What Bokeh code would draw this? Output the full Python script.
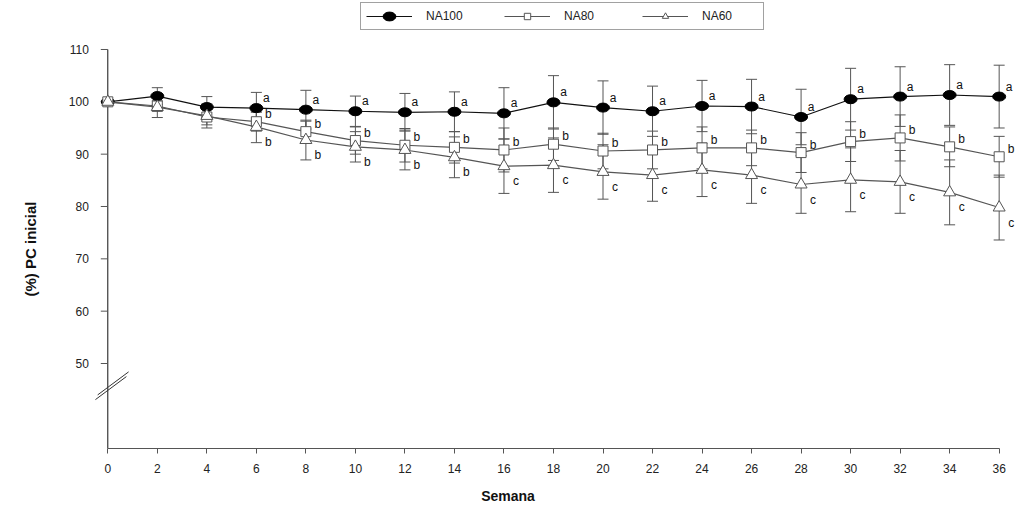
import math
from bokeh.plotting import figure
from bokeh.models import (ColumnDataSource, Whisker, TeeHead, FixedTicker, Legend,
                          LegendItem, Range1d)
from bokeh.core.properties import value
from bokeh.embed import file_html
from bokeh.resources import INLINE

# ---------------- data ----------------
weeks = [0, 2, 4, 6, 8, 10, 12, 14, 16, 18, 20, 22, 24, 26, 28, 30, 32, 34, 36]

na100 = [100, 101.1, 99.0, 98.8, 98.5, 98.2, 98.0, 98.1, 97.8, 99.9, 98.9, 98.2,
         99.2, 99.1, 97.1, 100.5, 101.0, 101.3, 101.0]
sd100 = [0, 1.6, 2.0, 3.0, 3.7, 2.9, 3.6, 3.8, 4.9, 5.1, 5.1, 4.8,
         4.9, 5.2, 5.3, 5.9, 5.7, 5.8, 6.0]

na80 = [100, 99.2, 97.1, 96.2, 94.3, 92.6, 91.7, 91.3, 90.8, 91.9, 90.6, 90.8,
        91.2, 91.2, 90.3, 92.4, 93.1, 91.4, 89.5]
sd80 = [0, 1.0, 1.5, 1.8, 2.0, 2.6, 3.2, 3.0, 4.2, 3.1, 3.4, 3.6,
        4.0, 3.4, 3.8, 3.8, 4.4, 3.8, 3.9]

na60 = [100, 99.0, 97.3, 95.2, 92.7, 91.4, 90.8, 89.4, 87.7, 87.9, 86.6, 86.0,
        87.0, 86.0, 84.2, 85.1, 84.7, 82.7, 79.8]
sd60 = [0, 2.0, 2.3, 3.0, 3.8, 2.9, 3.8, 3.9, 5.2, 5.2, 5.2, 5.0,
        5.1, 5.4, 5.5, 6.1, 6.0, 6.2, 6.2]

let100 = ["", "", "", "a", "a", "a", "a", "a", "a", "a", "a", "a", "a", "a", "a", "a", "a", "a", "a"]
let80 = ["", "", "", "b", "b", "b", "b", "b", "b", "b", "b", "b", "b", "b", "b", "b", "b", "b", "b"]
let60 = ["", "", "", "b", "b", "b", "b", "b", "c", "c", "c", "c", "c", "c", "c", "c", "c", "c", "c"]

series_names = ["NA100", "NA80", "NA60"]
x_ticks = list(range(0, 37, 2))
y_ticks = [50, 60, 70, 80, 90, 100, 110]
y_tick_labels = ["50", "60", "70", "80", "90", "100", "110"]
x_title = "Semana"
y_title = "(%) PC inicial"

FONT = "Liberation Sans"
GREY = "#555555"

Y0, Y_TOP = 33.76, 110          # visible axis extent
X0, X1 = 0, 36

p = figure(width=1016, height=510, output_backend="svg", toolbar_location=None,
           x_range=Range1d(-4.334, 36.66), y_range=Range1d(Y0, 119.36),
           min_border_left=0, min_border_right=1, min_border_top=0,
           min_border_bottom=62)
p.outline_line_color = None
p.grid.visible = False
p.background_fill_color = "white"

# x axis (native)
p.xaxis.ticker = FixedTicker(ticks=x_ticks)
xa = p.xaxis[0]
xa.minor_tick_line_color = None
xa.major_tick_in = 0
xa.major_tick_out = 5
xa.major_tick_line_color = GREY
xa.axis_line_color = GREY
xa.bounds = (X0, X1)
xa.major_label_text_font = FONT
xa.major_label_text_font_size = "12px"
xa.major_label_text_color = "#222222"
xa.major_label_standoff = 10
xa.axis_label = x_title
xa.axis_label_text_font = FONT
xa.axis_label_text_font_style = "bold"
xa.axis_label_text_font_size = "14px"
xa.axis_label_text_color = "#111111"
xa.axis_label_standoff = 12

# y axis drawn at x = X0 (line, outward ticks, labels, title)
p.yaxis.visible = False
p.segment(x0=[X0], y0=[Y0], x1=[X0], y1=[Y_TOP], line_color="#111111", line_width=1)
p.ray(x=[X0] * len(y_ticks), y=y_ticks, length=7, length_units="screen",
      angle=math.pi, line_color=GREY, line_width=1)
p.text(x=[X0] * len(y_ticks), y=y_ticks, text=y_tick_labels, x_offset=-19,
       text_font=value(FONT), text_font_size="12px", text_color="#222222",
       text_align="right", text_baseline="middle")
p.text(x=[X0], y=[(Y0 + Y_TOP) / 2], text=[y_title], x_offset=-77, angle=math.pi / 2,
       text_font=value(FONT), text_font_size="15px", text_font_style="bold",
       text_color="#111111", text_align="center", text_baseline="middle")


def add_whiskers(vals, sds):
    xs, lo, up = [], [], []
    for x, v, s in zip(weeks, vals, sds):
        if s > 0:
            xs.append(x)
            lo.append(v - s)
            up.append(v + s)
    src = ColumnDataSource(dict(x=xs, lower=lo, upper=up))
    w = Whisker(source=src, base="x", lower="lower", upper="upper",
                line_color=GREY, line_width=1,
                upper_head=TeeHead(size=11, line_color=GREY, line_width=1),
                lower_head=TeeHead(size=11, line_color=GREY, line_width=1))
    w.level = "underlay"
    p.add_layout(w)


add_whiskers(na100, sd100)
add_whiskers(na80, sd80)
add_whiskers(na60, sd60)

# series
l100 = p.line(weeks, na100, line_color="#111111", line_width=1.2)
m100 = p.ellipse(weeks, na100, width=13, height=9, width_units="screen",
                 height_units="screen", fill_color="black", line_color="black")

l80 = p.line(weeks, na80, line_color=GREY, line_width=1.2)
m80 = p.scatter(weeks, na80, marker="square", size=10, fill_color="white",
                line_color=GREY, line_width=1)

l60 = p.line(weeks, na60, line_color=GREY, line_width=1.2)
m60 = p.scatter(weeks, na60, marker="triangle", size=12, fill_color="white",
                line_color=GREY, line_width=1)

# significance letters
common = dict(text_font=value(FONT), text_font_size="12px", text_color="#111111",
              text_align="center", text_baseline="middle")
p.text(weeks, na100, text=let100, x_offset=10, y_offset=-10, **common)
p.text(weeks, na80, text=let80, x_offset=12, y_offset=-8, **common)
p.text(weeks, na60, text=let60, x_offset=12, y_offset=15, **common)

# axis break marks (decoration across the y axis)
brk = dict(x0=[X0 - 0.50, X0 - 0.41], y0=[43.1, 44.0],
           x1=[X0 + 0.75, X0 + 0.84], y1=[47.5, 48.4])
p.segment(x0="x0", y0="y0", x1="x1", y1="y1", source=ColumnDataSource(brk),
          line_color="#333333", line_width=1)

legend = Legend(items=[
    LegendItem(label=series_names[0], renderers=[l100, m100]),
    LegendItem(label=series_names[1], renderers=[l80, m80]),
    LegendItem(label=series_names[2], renderers=[l60, m60]),
], orientation="horizontal", location=(360, 418))
legend.glyph_width = 46
legend.glyph_height = 16
legend.label_standoff = 14
legend.label_width = 56
legend.spacing = 22
legend.padding = 5
legend.margin = 0
legend.border_line_color = "#444444"
legend.border_line_width = 1
legend.label_text_font = FONT
legend.label_text_font_size = "12px"
legend.label_text_color = "#222222"
legend.background_fill_alpha = 1
p.add_layout(legend)

open("out.html", "w").write(file_html(p, INLINE))
